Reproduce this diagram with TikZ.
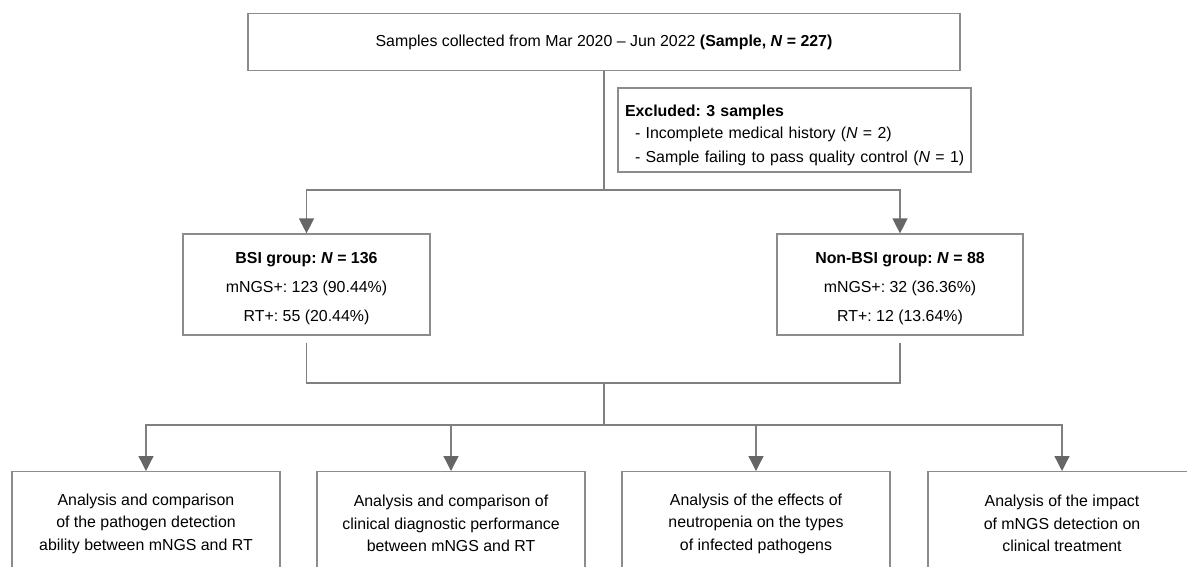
\documentclass[tikz,border=0pt]{standalone}
\usepackage{fontspec}
\setmainfont{Liberation Sans}
\usepackage{tikz}
\usetikzlibrary{positioning,arrows.meta}
\definecolor{linegray}{RGB}{128,128,128}
\definecolor{headgray}{RGB}{102,102,102}
\definecolor{boxgray}{RGB}{140,140,140}
\tikzset{box/.style = {rectangle,draw=boxgray,line width=1.2pt,align=center,inner sep=0pt,
                       font=\fontsize{15.9}{22.5}\selectfont},
         link/.style = {draw=linegray,line width=1.3pt},
         feed/.style = {link,-{Triangle[width=15pt,length=15pt,color=headgray]}}}

\begin{document}
\frenchspacing
\begin{tikzpicture}[x=1pt,y=-1pt]
                    \useasboundingbox (0,0) rectangle (1187,566);
                    \clip (0,0) rectangle (1187,566);
                    \node [box,minimum width=712pt,minimum height=57pt] (samples) at (604,42)
                        {Samples collected from Mar 2020 -- Jun 2022 \textbf{(Sample, \textit{N} = 227)}};
                    \node [box,align=left,text width=339pt,inner xsep=7pt,minimum height=84pt] (excluded) at (794.5,130)
                        {\rule{0pt}{22pt}\textbf{Excluded: 3 samples}\\
                         \mbox{\hspace*{10pt}- Incomplete medical history (\textit{N} = 2)}\\[1.5pt]
                         \mbox{\hspace*{10pt}- Sample failing to pass quality control (\textit{N} = 1)}};
                    \node [box,minimum width=247pt,minimum height=101pt] (bsi) at (306.5,284.5)
                        {\\[-4pt]\textbf{BSI group: \textit{N} = 136}\\[6.5pt] mNGS+: 123 (90.44\%)\\[6.5pt] RT+: 55 (20.44\%)};
                    \node [box,minimum width=246pt,minimum height=101pt] (nonbsi) at (900,284.5)
                        {\\[-4pt]\textbf{Non-BSI group: \textit{N} = 88}\\[6.5pt] mNGS+: 32 (36.36\%)\\[6.5pt] RT+: 12 (13.64\%)};
                    \foreach \i/\x/\txt in {1/146/{Analysis and comparison\\of the pathogen detection\\ability between mNGS and RT},
                                            2/451/{Analysis and comparison of\\clinical diagnostic performance\\between mNGS and RT},
                                            3/756/{Analysis of the effects of\\neutropenia on the types\\of infected pathogens},
                                            4/1062/{Analysis of the impact\\of mNGS detection on\\clinical treatment}} {
                        \node [box,anchor=north,minimum width=268pt,minimum height=104pt] (task\i) at (\x,471) {\txt};
                    }
                    \coordinate (split) at (604,190);
                    \coordinate (merge) at (604,383);
                    \coordinate (fork) at (604,425);
                    \draw [link] (samples.south) -- (split);
                    \draw [feed] (split) -| (bsi.north);
                    \draw [feed] (split) -| (nonbsi.north);
                    \draw [link,shorten <=7pt] (bsi.south) |- (merge);
                    \draw [link,shorten <=7pt] (nonbsi.south) |- (merge);
                    \draw [link] (merge) -- (fork);
                    \foreach \i in {1,...,4} {
                        \draw [feed] (fork) -| (task\i.north);
                    }
                \end{tikzpicture}
\end{document}
